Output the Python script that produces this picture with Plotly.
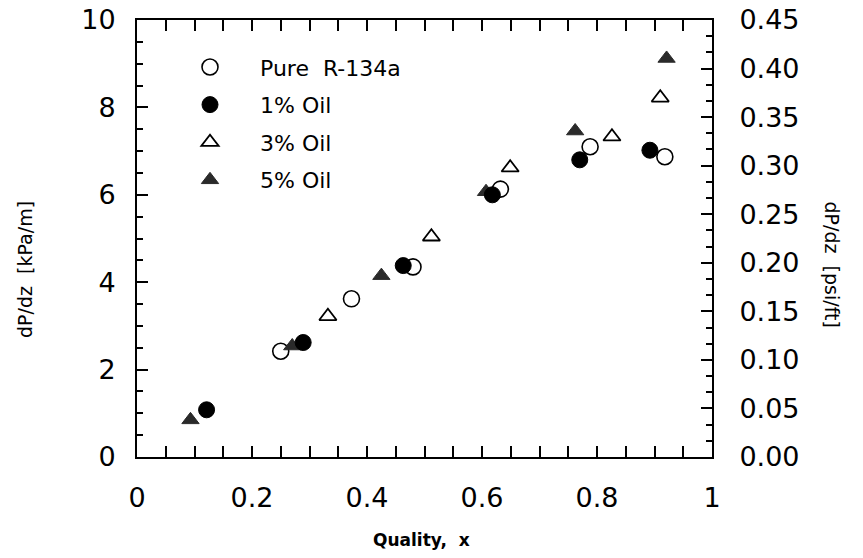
import plotly.graph_objects as go

# Data
pure_x = [0.250, 0.373, 0.480, 0.632, 0.788, 0.918]
pure_y = [2.42, 3.62, 4.35, 6.13, 7.10, 6.87]

oil1_x = [0.121, 0.289, 0.463, 0.618, 0.770, 0.892]
oil1_y = [1.08, 2.62, 4.38, 6.00, 6.80, 7.02]

oil3_x = [0.332, 0.512, 0.649, 0.826, 0.910]
oil3_y = [3.22, 5.04, 6.62, 7.33, 8.22]

oil5_x = [0.093, 0.270, 0.425, 0.607, 0.762, 0.921]
oil5_y = [0.85, 2.54, 4.15, 6.07, 7.46, 9.12]

x_ticks = [0, 0.2, 0.4, 0.6, 0.8, 1]
x_tick_text = ["0", "0.2", "0.4", "0.6", "0.8", "1"]
y_ticks = [0, 2, 4, 6, 8, 10]
y2_ticks = [0, 0.05, 0.10, 0.15, 0.20, 0.25, 0.30, 0.35, 0.40, 0.45]
y2_tick_text = ["0.00", "0.05", "0.10", "0.15", "0.20", "0.25", "0.30", "0.35", "0.40", "0.45"]

FONT = "DejaVu Sans, sans-serif"

fig = go.Figure()

fig.add_trace(go.Scatter(
    x=pure_x, y=pure_y, mode="markers", name="Pure  R-134a",
    legendrank=1, legendgroup="a",
    marker=dict(symbol="circle", size=16, color="white",
                line=dict(color="black", width=1.6)),
))
fig.add_trace(go.Scatter(
    x=oil3_x, y=oil3_y, mode="markers", name="3% Oil",
    legendrank=3, legendgroup="c",
    marker=dict(symbol="triangle-up", size=15, color="white",
                line=dict(color="black", width=1.8)),
))
fig.add_trace(go.Scatter(
    x=oil5_x, y=oil5_y, mode="markers", name="5% Oil",
    legendrank=4, legendgroup="d",
    marker=dict(symbol="triangle-up", size=15, color="#2a2a2a",
                line=dict(color="#2a2a2a", width=1)),
))
fig.add_trace(go.Scatter(
    x=oil1_x, y=oil1_y, mode="markers", name="1% Oil",
    legendrank=2, legendgroup="b",
    marker=dict(symbol="circle", size=16, color="black",
                line=dict(color="black", width=1)),
))
# invisible trace to activate secondary axis
fig.add_trace(go.Scatter(
    x=[None], y=[None], yaxis="y2", showlegend=False, hoverinfo="skip",
))

axis_common = dict(
    showgrid=False, zeroline=False, showline=True, linecolor="black",
    linewidth=2, ticks="inside", tickcolor="black", tickwidth=2,
    automargin=False, ticklabeloverflow="allow",
    tickfont=dict(family=FONT, size=27, color="black"),
)

fig.update_layout(
    width=863, height=558,
    margin=dict(l=137, r=151, t=20, b=101),
    paper_bgcolor="white", plot_bgcolor="white",
    font=dict(family=FONT, color="black"),
    xaxis=dict(
        range=[0, 1], tickvals=x_ticks, ticktext=x_tick_text,
        ticklen=11, mirror="allticks", ticklabelstandoff=16,
        minor=dict(dtick=0.05, ticklen=6, tickwidth=2, tickcolor="black",
                   ticks="inside", showgrid=False),
        **axis_common,
    ),
    yaxis=dict(
        range=[0, 10], tickvals=y_ticks, ticklen=11, mirror=True,
        ticklabelstandoff=14,
        minor=dict(dtick=0.5, ticklen=6, tickwidth=2, tickcolor="black",
                   ticks="inside", showgrid=False),
        **axis_common,
    ),
    yaxis2=dict(
        range=[0, 0.45], tickvals=y2_ticks, ticktext=y2_tick_text,
        overlaying="y", side="right", ticklen=11, ticklabelstandoff=20,
        minor=dict(dtick=0.05 / 3, ticklen=6, tickwidth=2, tickcolor="black",
                   ticks="inside", showgrid=False),
        **axis_common,
    ),
    legend=dict(
        x=0.04, y=0.94, xanchor="left", yanchor="top",
        bgcolor="rgba(0,0,0,0)", borderwidth=0,
        font=dict(family=FONT, size=22, color="black"),
        traceorder="grouped", tracegroupgap=6, itemwidth=90,
    ),
    showlegend=True,
    annotations=[
        dict(text="dP/dz  [kPa/m]", xref="paper", yref="paper",
             x=-0.195, y=0.43, xanchor="center", yanchor="middle",
             textangle=-90, showarrow=False,
             font=dict(family=FONT, size=19, color="black")),
        dict(text="dP/dz  [psi/ft]", xref="paper", yref="paper",
             x=1.209, y=0.44, xanchor="center", yanchor="middle",
             textangle=90, showarrow=False,
             font=dict(family=FONT, size=19, color="black")),
        dict(text="Quality,  x", xref="paper", yref="paper",
             x=0.495, y=-0.19, xanchor="center", yanchor="middle",
             showarrow=False,
             font=dict(family=FONT, size=17, color="black", weight="bold")),
    ],
)

fig.write_html(
    "out.html",
    config={"displayModeBar": False},
    post_script="document.body.style.margin='0';document.body.style.overflow='hidden';",
)
